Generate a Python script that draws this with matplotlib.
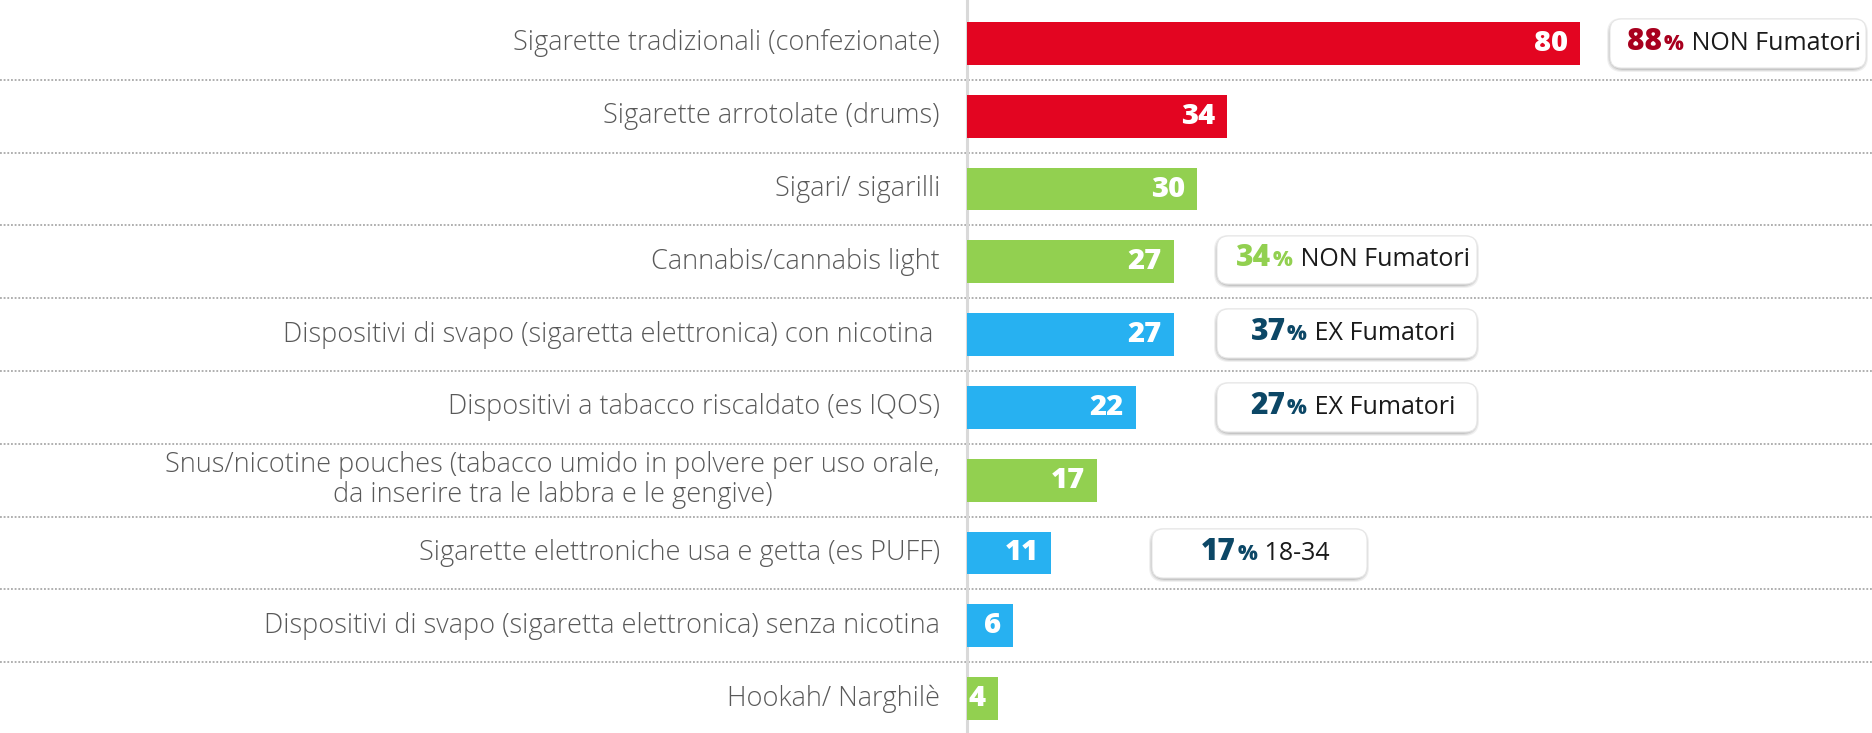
import matplotlib
matplotlib.use("Agg")
import matplotlib.pyplot as plt
from matplotlib.patches import FancyBboxPatch
from matplotlib.offsetbox import TextArea, HPacker, AnnotationBbox

# ---------------- data ----------------
categories = [
    "Sigarette tradizionali (confezionate)",
    "Sigarette arrotolate (drums)",
    "Sigari/ sigarilli",
    "Cannabis/cannabis light",
    "Dispositivi di svapo (sigaretta elettronica) con nicotina ",
    "Dispositivi a tabacco riscaldato (es IQOS)",
    "Snus/nicotine pouches (tabacco umido in polvere per uso orale,\nda inserire tra le labbra e le gengive)",
    "Sigarette elettroniche usa e getta (es PUFF)",
    "Dispositivi di svapo (sigaretta elettronica) senza nicotina",
    "Hookah/ Narghilè",
]
values = [80, 34, 30, 27, 27, 22, 17, 11, 6, 4]
groups = ["red", "red", "green", "green", "blue", "blue", "green", "blue", "blue", "green"]

callout_rows = [0, 3, 4, 5, 7]
callout_pcts = [88, 34, 37, 27, 17]
callout_texts = ["NON Fumatori", "NON Fumatori", "EX Fumatori", "EX Fumatori", "18-34"]
callout_groups = ["darkred", "green", "navy", "navy", "navy"]

# ---------------- style ----------------
W, H, DPI = 1872, 733, 100
palette = {"red": "#E30521", "green": "#92D050", "blue": "#27B1F1",
           "darkred": "#A8001E", "navy": "#0C4766"}
label_color = "#595959"
# callout boxes in pixel coords (x0, y0, x1, y1) from top-left
callout_boxes = [(1610, 19, 1866, 68), (1217, 236, 1477, 284),
                 (1217, 309, 1477, 358), (1217, 383, 1477, 432),
                 (1152, 529, 1367, 578)]

fig = plt.figure(figsize=(W / DPI, H / DPI), dpi=DPI)
fig.patch.set_facecolor("white")
ax = fig.add_axes([0, 0, 1, 1])
ax.set_axis_off()

px_per_unit = 7.66
x0_px = 967
ax.set_xlim(-x0_px / px_per_unit, (W - x0_px) / px_per_unit)
row_top0, row_h = 43.4, 72.8
ax.set_ylim((H - row_top0) / row_h, -row_top0 / row_h)

n = len(categories)
rows = list(range(n))

# separators
for i in range(n - 1):
    ax.axhline(i + 0.5, color="#9A9A9A", lw=1.1, ls=(0, (1.2, 1.2)), zorder=1)
# vertical axis line
ax.axvline(0, color="#D9D9D9", lw=2.2, zorder=2)

ax.barh(rows, values, height=0.59, color=[palette[g] for g in groups],
        zorder=3)

for i, (cat, v) in enumerate(zip(categories, values)):
    ax.annotate(cat, xy=(0, i), xytext=(-27 * 0.72, 0), textcoords="offset points",
                ha="right", va="center", ma="center", fontsize=19.5,
                family="Open Sans", weight="light", color=label_color,
                linespacing=1.1)
    ax.annotate(str(v), xy=(v, i), xytext=(-12 * 0.72, 0), textcoords="offset points",
                ha="right", va="center", fontsize=21, family="Open Sans",
                weight="heavy", color="white", zorder=4)


def fig_xy(x, y):
    return x / W, 1 - y / H


for row, pct, txt, g, (bx0, by0, bx1, by1) in zip(
        callout_rows, callout_pcts, callout_texts, callout_groups, callout_boxes):
    # shadow layers
    for k, a in enumerate([0.10, 0.08, 0.06]):
        off = 2 + k
        sx0, sy0 = fig_xy(bx0 - off + 1, by1 + off)
        sx1, sy1 = fig_xy(bx1 + off - 2, by0 - off + 3)
        sh = FancyBboxPatch((sx0, sy0), sx1 - sx0, sy1 - sy0,
                            boxstyle="round,pad=0,rounding_size=0.008",
                            transform=fig.transFigure, facecolor="black",
                            edgecolor="none", alpha=a, zorder=5,
                            mutation_aspect=W / H)
        fig.add_artist(sh)
    fx0, fy0 = fig_xy(bx0, by1)
    fx1, fy1 = fig_xy(bx1, by0)
    box = FancyBboxPatch((fx0, fy0), fx1 - fx0, fy1 - fy0,
                         boxstyle="round,pad=0,rounding_size=0.006",
                         transform=fig.transFigure, facecolor="white",
                         edgecolor="#E6E6E6", lw=0.8, zorder=6,
                         mutation_aspect=W / H)
    fig.add_artist(box)
    parts = [
        TextArea(str(pct), textprops=dict(fontsize=21.5, family="Open Sans", weight="heavy",
                                           color=palette[g])),
        TextArea("%", textprops=dict(fontsize=15, family="Open Sans", weight="heavy",
                                      color=palette[g])),
        TextArea(" " + txt, textprops=dict(fontsize=18, family="Open Sans",
                                            weight="normal", color="#1A1A1A")),
    ]
    pack = HPacker(children=parts, align="baseline", pad=0, sep=1)
    cx, cy = fig_xy((bx0 + bx1) / 2 + 6, (by0 + by1) / 2)
    ab = AnnotationBbox(pack, (cx, cy), xycoords="figure fraction",
                        frameon=False, box_alignment=(0.5, 0.45), zorder=7)
    fig.add_artist(ab)

fig.savefig("out.png", dpi=DPI, facecolor="white")
